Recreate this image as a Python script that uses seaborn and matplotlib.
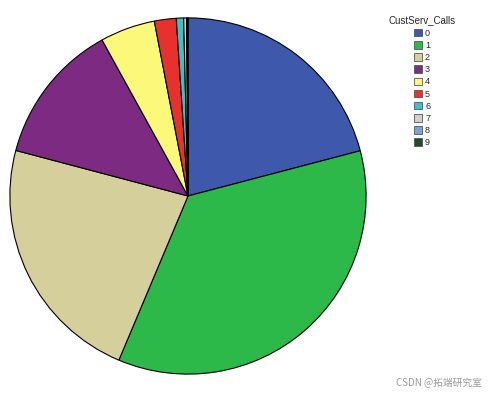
import matplotlib
matplotlib.use("Agg")
import matplotlib.pyplot as plt
import seaborn as sns
from matplotlib.patches import Patch

categories = ["0", "1", "2", "3", "4", "5", "6", "7", "8", "9"]
counts = [697, 1181, 759, 429, 166, 66, 22, 9, 2, 2]
colors = ["#3e58ac", "#2db84a", "#d5cf9c", "#7c2a82", "#fbf87a",
          "#e8312f", "#3ec0c4", "#d0d0d0", "#79a4d8", "#1f4c2d"]

sns.set_theme(style="white")
plt.rcParams['font.family'] = ['Liberation Sans', 'DejaVu Sans']

W, H = 492, 395
fig = plt.figure(figsize=(W / 100, H / 100), dpi=100)
fig.patch.set_facecolor("white")

cx, cy, r = 188, 196, 179
ax = fig.add_axes([(cx - r) / W, (H - cy - r) / H, 2 * r / W, 2 * r / H])
ax.pie(counts, colors=colors, startangle=90, counterclock=False,
       radius=1, wedgeprops=dict(edgecolor="black", linewidth=0.8))
ax.set_xlim(-1.005, 1.005)
ax.set_ylim(-1.005, 1.005)
ax.set_aspect("equal")
ax.axis("off")

handles = [Patch(facecolor=c, edgecolor="#555555", linewidth=0.6, label=l)
           for c, l in zip(colors, categories)]
leg = fig.legend(handles=handles, title="CustServ_Calls",
                 loc="upper left", bbox_to_anchor=(385 / W, 1 - 12 / H),
                 frameon=False, fontsize=6.5, title_fontsize=7,
                 handlelength=0.9, handleheight=0.9, handletextpad=0.3,
                 labelspacing=0.35, borderaxespad=0)

fig.text(482 / W, 1 - 383 / H, "CSDN @拓端研究室", ha="right", va="center",
         fontsize=7, color="#9a9a9a",
         family=["Noto Sans CJK SC", "DejaVu Sans"])

fig.savefig("out.png", dpi=100)
